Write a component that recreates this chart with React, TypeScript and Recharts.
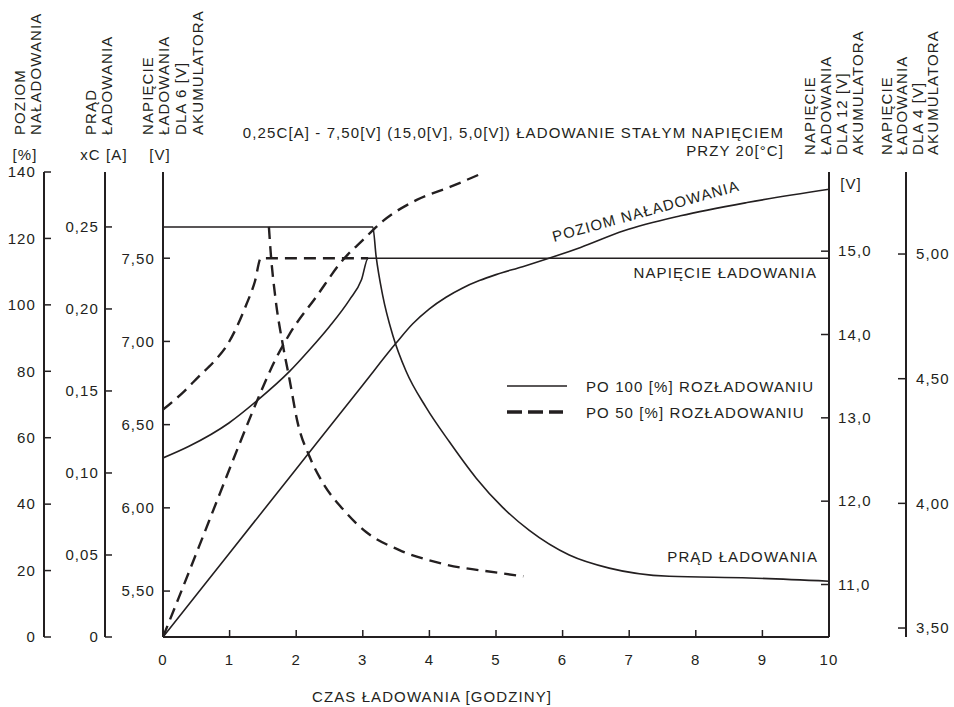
import React from "react";
import { Legend, Line, LineChart, XAxis, YAxis } from "recharts";

const INK = "#231f20";
const FONT = '"Liberation Sans", Arial, sans-serif';

// Axis ticks
const hourTicks = [0, 1, 2, 3, 4, 5, 6, 7, 8, 9, 10];
const levelTicks = [0, 20, 40, 60, 80, 100, 120, 140];
const currentTicks = [0, 0.05, 0.1, 0.15, 0.2, 0.25];
const volt6Ticks = [5.5, 6, 6.5, 7, 7.5];
const volt12Ticks = [11, 12, 13, 14, 15];
const volt4Ticks = [3.5, 4, 4.5, 5];

// After a 100% discharge (solid)
const currentFullHours = [0, 3.15, 3.2, 3.3, 3.45, 3.65, 3.95, 4.3, 4.7, 5.1, 5.5, 6.1, 6.7, 7.6, 8.8, 10];
const currentFullAmps = [0.25, 0.25, 0.232, 0.208, 0.184, 0.162, 0.14, 0.119, 0.097, 0.079, 0.065, 0.05, 0.042, 0.037, 0.036, 0.034];
const voltageFullHours = [0, 0.39, 0.99, 1.4, 1.9, 2.2, 2.5, 2.8, 2.98, 3.08, 10];
const voltageFullVolts = [6.3, 6.37, 6.51, 6.64, 6.82, 6.95, 7.09, 7.25, 7.37, 7.5, 7.5];
const levelFullHours = [0, 1, 2, 3, 3.5, 3.75, 4.0, 4.25, 4.5, 4.75, 5.0, 5.4, 5.76, 6.27, 6.92, 7.77, 8.77, 10];
const levelFullPct = [0, 25.3, 50.6, 75.9, 88.5, 94.3, 98.8, 102.3, 105.1, 107.3, 109.1, 111.5, 113.8, 117.3, 122.3, 126.8, 130.8, 134.8];

// After a 50% discharge (dashed)
const currentHalfHours = [1.59, 1.62, 1.69, 1.8, 1.9, 2.02, 2.2, 2.4, 2.7, 3.05, 3.55, 4.16, 5.06, 5.41];
const currentHalfAmps = [0.25, 0.233, 0.206, 0.178, 0.157, 0.131, 0.11, 0.094, 0.078, 0.064, 0.053, 0.045, 0.039, 0.037];
const voltageHalfHours = [0, 0.29, 0.54, 0.79, 0.95, 1.1, 1.25, 1.38, 1.47, 3.08];
const voltageHalfVolts = [6.59, 6.69, 6.79, 6.89, 6.97, 7.08, 7.22, 7.36, 7.5, 7.5];
const levelHalfHours = [0, 0.24, 0.54, 0.84, 1.14, 1.45, 1.67, 1.9, 2.3, 2.7, 3.0, 3.3, 3.81, 4.31, 4.8];
const levelHalfPct = [0, 12.0, 27.2, 42.5, 57.7, 72.9, 82.8, 91.2, 102.4, 113.5, 119.5, 125.2, 131.6, 135.5, 139.7];

const legendItems = [
  { label: "PO 100 [%] ROZŁADOWANIU", dashed: false },
  { label: "PO 50 [%] ROZŁADOWANIU", dashed: true },
];

const toPoints = (hours: number[], values: number[]) =>
  hours.map((h, i) => ({ h, v: values[i] }));

const comma = (digits: number) => (v: number) =>
  v === 0 ? "0" : v.toFixed(digits).replace(".", ",");

const tickText = { fontSize: 15, fill: INK };
const axisStroke = { stroke: INK, strokeWidth: 2 };
const tickStroke = { stroke: INK, strokeWidth: 1.5 };

const SOLID = { stroke: INK, strokeWidth: 1.6 };
const DASHED = { stroke: INK, strokeWidth: 2.4, strokeDasharray: "12 7" };

const LegendBox = () => (
  <svg width={330} height={56}>
    {legendItems.map((item, i) => (
      <g key={item.label}>
        <line
          x1={7}
          x2={item.dashed ? 63 : 67}
          y1={14 + i * 26}
          y2={14 + i * 26}
          stroke={INK}
          strokeWidth={item.dashed ? 3.5 : 1.6}
          strokeDasharray={item.dashed ? "15 6" : undefined}
        />
        <text x={86} y={20 + i * 26} fontSize={15} fill={INK}>
          {item.label}
        </text>
      </g>
    ))}
  </svg>
);

const VerticalCaption = ({ lines, xs, bottom }: { lines: string[]; xs: number[]; bottom: number }) => (
  <g>
    {lines.map((t, i) => (
      <text key={i} transform={`translate(${xs[i]},${bottom}) rotate(-90)`} fontSize={15} fill={INK}>
        {t}
      </text>
    ))}
  </g>
);

// y axes are laid out by id: "y1" sits next to the plot, "y3" furthest left
export default function App() {
  return (
    <div
      style={{
        position: "absolute",
        left: 0,
        top: 0,
        width: 954,
        height: 707,
        fontFamily: FONT,
        letterSpacing: 1.1,
        background: "#fff",
      }}
    >
      <LineChart width={954} height={707} margin={{ top: 172, right: 8, bottom: 0, left: 4 }}>
        <XAxis
          type="number"
          dataKey="h"
          domain={[0, 10]}
          ticks={hourTicks}
          interval={0}
          allowDataOverflow
          height={70}
          tickSize={-7}
          tickMargin={24}
          axisLine={axisStroke}
          tickLine={tickStroke}
          tick={tickText}
        />
        <XAxis
          xAxisId="frame"
          orientation="top"
          type="number"
          domain={[0, 10]}
          height={0}
          tick={false}
          tickLine={false}
          axisLine={axisStroke}
        />
        <YAxis
          yAxisId="y1v6"
          width={58}
          domain={[5.224, 8.018]}
          ticks={volt6Ticks}
          interval={0}
          allowDataOverflow
          tickSize={-7}
          tickMargin={15}
          tickFormatter={comma(2)}
          axisLine={axisStroke}
          tickLine={tickStroke}
          tick={tickText}
        />
        <YAxis
          yAxisId="y2cur"
          width={61}
          domain={[0, 0.2835]}
          ticks={currentTicks}
          interval={0}
          allowDataOverflow
          tickSize={-7}
          tickMargin={13}
          tickFormatter={comma(2)}
          axisLine={axisStroke}
          tickLine={tickStroke}
          tick={tickText}
        />
        <YAxis
          yAxisId="y3pct"
          width={40}
          domain={[0, 140]}
          ticks={levelTicks}
          interval={0}
          allowDataOverflow
          tickSize={-7}
          tickMargin={15}
          axisLine={axisStroke}
          tickLine={tickStroke}
          tick={tickText}
        />
        <YAxis
          yAxisId="y4v12"
          orientation="right"
          width={77}
          domain={[10.37, 15.95]}
          ticks={volt12Ticks}
          interval={0}
          allowDataOverflow
          tickSize={-8}
          tickMargin={17}
          tickFormatter={comma(1)}
          axisLine={axisStroke}
          tickLine={tickStroke}
          tick={tickText}
        />
        <YAxis
          yAxisId="y5v4"
          orientation="right"
          width={40}
          domain={[3.464, 5.329]}
          ticks={volt4Ticks}
          interval={0}
          allowDataOverflow
          tickSize={-8}
          tickMargin={18}
          tickFormatter={comma(2)}
          axisLine={axisStroke}
          tickLine={tickStroke}
          tick={tickText}
        />

        <Line yAxisId="y2cur" data={toPoints(currentFullHours, currentFullAmps)} dataKey="v" type="monotone" dot={false} activeDot={false} isAnimationActive={false} {...SOLID} />
        <Line yAxisId="y1v6" data={toPoints(voltageFullHours, voltageFullVolts)} dataKey="v" type="monotone" dot={false} activeDot={false} isAnimationActive={false} {...SOLID} />
        <Line yAxisId="y3pct" data={toPoints(levelFullHours, levelFullPct)} dataKey="v" type="monotone" dot={false} activeDot={false} isAnimationActive={false} {...SOLID} />
        <Line yAxisId="y2cur" data={toPoints(currentHalfHours, currentHalfAmps)} dataKey="v" type="monotone" dot={false} activeDot={false} isAnimationActive={false} {...DASHED} />
        <Line yAxisId="y1v6" data={toPoints(voltageHalfHours, voltageHalfVolts)} dataKey="v" type="monotone" dot={false} activeDot={false} isAnimationActive={false} {...DASHED} />
        <Line yAxisId="y3pct" data={toPoints(levelHalfHours, levelHalfPct)} dataKey="v" type="monotone" dot={false} activeDot={false} isAnimationActive={false} {...DASHED} />

        <Legend
          layout="vertical"
          align="center"
          verticalAlign="middle"
          wrapperStyle={{ left: 500, top: 372, width: 330 }}
          content={() => <LegendBox />}
        />
      </LineChart>

      <svg
        width={954}
        height={707}
        style={{ position: "absolute", left: 0, top: 0, pointerEvents: "none" }}
      >
        <VerticalCaption lines={["POZIOM", "NAŁADOWANIA"]} xs={[25, 41]} bottom={135} />
        <VerticalCaption lines={["PRĄD", "ŁADOWANIA"]} xs={[96, 112]} bottom={135} />
        <VerticalCaption lines={["NAPIĘCIE", "ŁADOWANIA", "DLA 6 [V]", "AKUMULATORA"]} xs={[153, 169, 186, 203]} bottom={135} />
        <VerticalCaption lines={["NAPIĘCIE", "ŁADOWANIA", "DLA 12 [V]", "AKUMULATORA"]} xs={[815, 831, 847, 863]} bottom={155} />
        <VerticalCaption lines={["NAPIĘCIE", "ŁADOWANIA", "DLA 4 [V]", "AKUMULATORA"]} xs={[892, 907, 923, 938]} bottom={155} />

        <g fontSize={15} fill={INK}>
          <text x={25} y={160} textAnchor="middle">[%]</text>
          <text x={104} y={160} textAnchor="middle">xC [A]</text>
          <text x={160} y={160} textAnchor="middle">[V]</text>
          <text x={851} y={189} textAnchor="middle">[V]</text>

          <text x={784} y={138} textAnchor="end">
            0,25C[A] - 7,50[V] (15,0[V], 5,0[V]) ŁADOWANIE STAŁYM NAPIĘCIEM
          </text>
          <text x={784} y={156} textAnchor="end">PRZY 20[°C]</text>

          <text transform="translate(554,242) rotate(-15.5)">POZIOM NAŁADOWANIA</text>
          <text x={817} y={278} textAnchor="end">NAPIĘCIE ŁADOWANIA</text>
          <text x={818} y={562} textAnchor="end">PRĄD ŁADOWANIA</text>

          <text x={432} y={702} textAnchor="middle">CZAS ŁADOWANIA [GODZINY]</text>
        </g>
      </svg>
    </div>
  );
}
